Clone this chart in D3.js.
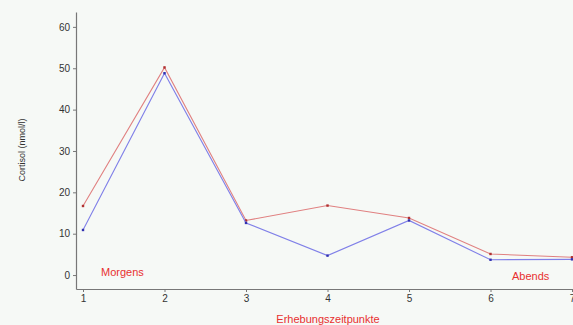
<!DOCTYPE html>
<html>
<head>
<meta charset="utf-8">
<script src="https://cdn.jsdelivr.net/npm/d3@7"></script>
<style>
  body { margin: 0; background: #f6f9f6; }
  text { font-family: "Liberation Sans", Arial, sans-serif; }
</style>
</head>
<body>
<div id="chart"></div>
<script>
// data
var zeitpunkte = [1, 2, 3, 4, 5, 6, 7];
var rot = [16.7, 50.2, 13.2, 16.8, 13.8, 5.1, 4.3];
var blau = [10.9, 48.8, 12.6, 4.7, 13.2, 3.7, 3.8];
var yTicks = [0, 10, 20, 30, 40, 50, 60];

var width = 573, height = 325;

var svg = d3.select("#chart")
  .append("svg")
    .attr("width", width)
    .attr("height", height);

svg.append("rect")
  .attr("width", width)
  .attr("height", height)
  .attr("fill", "#f6f9f6");

// scales
var x = d3.scaleLinear()
  .domain([0.914, 7.012])
  .range([76, 573]);

var y = d3.scaleLinear()
  .domain([-3.37, 63.6])
  .range([289, 12]);

// axes
var xAxis = svg.append("g")
  .attr("transform", "translate(0,289)")
  .call(d3.axisBottom(x).tickValues(zeitpunkte).tickFormat(d3.format("d"))
    .tickSize(3).tickSizeOuter(0).tickPadding(3));

var yAxis = svg.append("g")
  .attr("transform", "translate(76,0)")
  .call(d3.axisLeft(y).tickValues(yTicks).tickFormat(d3.format("d"))
    .tickSize(3).tickSizeOuter(0).tickPadding(3));

[xAxis, yAxis].forEach(function(g) {
  g.select(".domain").attr("stroke", "#777").attr("stroke-width", 1.2);
  g.selectAll(".tick line").attr("stroke", "#777");
  g.selectAll(".tick text")
    .attr("fill", "#333")
    .style("font-size", "10px");
});

// lines
var line = d3.line()
  .x(function(d, i) { return x(zeitpunkte[i]); })
  .y(function(d) { return y(d); });

var series = [
  {values: rot, line: "#e08080", dot: "#b03030"},
  {values: blau, line: "#8080e8", dot: "#3030b0"}
];

series.forEach(function(s) {
  svg.append("path")
    .datum(s.values)
    .attr("fill", "none")
    .attr("stroke", s.line)
    .attr("stroke-width", 1.1)
    .attr("d", line);

  svg.selectAll(null)
    .data(s.values)
    .enter()
    .append("rect")
      .attr("x", function(d, i) { return x(zeitpunkte[i]) - 1.2; })
      .attr("y", function(d) { return y(d) - 1.2; })
      .attr("width", 2.4)
      .attr("height", 2.4)
      .attr("fill", s.dot);
});

// labels
svg.append("text")
  .attr("x", 101)
  .attr("y", 276)
  .attr("fill", "#e83030")
  .style("font-size", "11px")
  .text("Morgens");

svg.append("text")
  .attr("x", 512)
  .attr("y", 280)
  .attr("fill", "#e83030")
  .style("font-size", "11px")
  .text("Abends");

svg.append("text")
  .attr("x", 328)
  .attr("y", 323)
  .attr("text-anchor", "middle")
  .attr("fill", "#e83030")
  .style("font-size", "11px")
  .text("Erhebungszeitpunkte");

svg.append("text")
  .attr("transform", "translate(25,150)rotate(-90)")
  .attr("text-anchor", "middle")
  .attr("fill", "#333")
  .style("font-size", "9px")
  .text("Cortisol (nmol/l)");
</script>
</body>
</html>
